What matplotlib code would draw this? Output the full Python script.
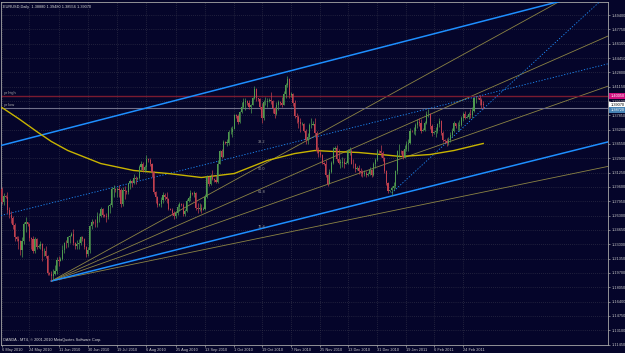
import matplotlib
matplotlib.use("Agg")
import matplotlib.pyplot as plt
import numpy as np
import pandas as pd

plt.rcParams['font.family'] = ['Liberation Sans', 'DejaVu Sans']

header_text = "EURUSD,Daily  1.38880 1.39480 1.38556 1.39070"
footer_text = "OANDA - MT4, \u00a9 2001-2010 MetaQuotes Software Corp."

first_open = 1.2940
# daily closes, weeks run Sun..Fri (OANDA has sunday bars)
closes = [
    1.2790, 1.2860,
    1.2850, 1.2700, 1.2640, 1.2600, 1.2520, 1.2380,
    1.2360, 1.2340, 1.2230, 1.2340, 1.2530, 1.2560,
    1.2530, 1.2370, 1.2360, 1.2220, 1.2360, 1.2270,
    1.2280, 1.2300, 1.2220, 1.2220, 1.2160, 1.1970,
    1.1960, 1.1930, 1.1960, 1.1990, 1.2120, 1.2110,
    1.2130, 1.2230, 1.2320, 1.2310, 1.2380, 1.2390,
    1.2420, 1.2310, 1.2280, 1.2300, 1.2320, 1.2380,
    1.2360, 1.2270, 1.2190, 1.2230, 1.2510, 1.2560,
    1.2550, 1.2540, 1.2620, 1.2630, 1.2710, 1.2640,
    1.2630, 1.2610, 1.2740, 1.2750, 1.2940, 1.2940,
    1.2920, 1.2940, 1.2930, 1.2760, 1.2920, 1.2910,
    1.2900, 1.3000, 1.3030, 1.3000, 1.3060, 1.3050,
    1.3060, 1.3190, 1.3230, 1.3150, 1.3190, 1.3280,
    1.3270, 1.3220, 1.3130, 1.2900, 1.2840, 1.2750,
    1.2760, 1.2810, 1.2870, 1.2850, 1.2820, 1.2710,
    1.2700, 1.2660, 1.2630, 1.2660, 1.2730, 1.2760,
    1.2750, 1.2650, 1.2680, 1.2800, 1.2830, 1.2890,
    1.2880, 1.2890, 1.2720, 1.2710, 1.2720, 1.2690,
    1.2710, 1.2850, 1.3080, 1.2990, 1.3070, 1.3050,
    1.3040, 1.3020, 1.3230, 1.3370, 1.3310, 1.3480,
    1.3470, 1.3470, 1.3590, 1.3590, 1.3630, 1.3790,
    1.3780, 1.3710, 1.3820, 1.3880, 1.3940, 1.3950,
    1.3930, 1.3880, 1.3910, 1.3990, 1.4090, 1.3980,
    1.3970, 1.3880, 1.3750, 1.3940, 1.3940, 1.3950,
    1.3960, 1.3950, 1.3870, 1.3800, 1.3910, 1.3940,
    1.3930, 1.3910, 1.4030, 1.4140, 1.4200, 1.4020,
    1.4030, 1.3930, 1.3780, 1.3770, 1.3710, 1.3680,
    1.3690, 1.3610, 1.3500, 1.3530, 1.3670, 1.3670,
    1.3690, 1.3580, 1.3370, 1.3350, 1.3330, 1.3240,
    1.3230, 1.3100, 1.2990, 1.3130, 1.3240, 1.3400,
    1.3410, 1.3280, 1.3240, 1.3240, 1.3250, 1.3230,
    1.3240, 1.3380, 1.3380, 1.3230, 1.3220, 1.3170,
    1.3180, 1.3140, 1.3130, 1.3110, 1.3120, 1.3100,
    1.3110, 1.3150, 1.3100, 1.3230, 1.3270, 1.3380,
    1.3370, 1.3350, 1.3290, 1.3140, 1.3000, 1.2910,
    1.2920, 1.2950, 1.2970, 1.3140, 1.3370, 1.3380,
    1.3370, 1.3310, 1.3400, 1.3460, 1.3470, 1.3610,
    1.3600, 1.3610, 1.3670, 1.3710, 1.3700, 1.3610,
    1.3620, 1.3700, 1.3800, 1.3800, 1.3660, 1.3580,
    1.3590, 1.3600, 1.3680, 1.3720, 1.3580, 1.3500,
    1.3490, 1.3470, 1.3500, 1.3560, 1.3600, 1.3700,
    1.3660, 1.3660, 1.3670, 1.3750, 1.3800, 1.3760,
    1.3770, 1.3800, 1.3790, 1.3840, 1.3980, 1.3990,
    1.3980, 1.3960, 1.3910, 1.3907,
]
highs = [
    1.2960, 1.2890,
    1.2870, 1.2900, 1.2730, 1.2680, 1.2620, 1.2540,
    1.2390, 1.2400, 1.2350, 1.2380, 1.2560, 1.2610,
    1.2560, 1.2540, 1.2380, 1.2400, 1.2380, 1.2370,
    1.2300, 1.2340, 1.2310, 1.2260, 1.2280, 1.2180,
    1.1980, 1.1990, 1.2010, 1.2060, 1.2150, 1.2160,
    1.2150, 1.2290, 1.2330, 1.2350, 1.2400, 1.2410,
    1.2440, 1.2470, 1.2330, 1.2350, 1.2360, 1.2390,
    1.2390, 1.2370, 1.2280, 1.2270, 1.2520, 1.2590,
    1.2570, 1.2590, 1.2670, 1.2660, 1.2730, 1.2720,
    1.2650, 1.2660, 1.2750, 1.2780, 1.2960, 1.2980,
    1.2950, 1.2960, 1.2980, 1.2950, 1.2960, 1.2970,
    1.2920, 1.3010, 1.3050, 1.3040, 1.3110, 1.3090,
    1.3080, 1.3210, 1.3260, 1.3250, 1.3210, 1.3333,
    1.3290, 1.3290, 1.3240, 1.3140, 1.2910, 1.2860,
    1.2780, 1.2850, 1.2900, 1.2890, 1.2900, 1.2830,
    1.2720, 1.2720, 1.2680, 1.2680, 1.2760, 1.2790,
    1.2770, 1.2780, 1.2710, 1.2820, 1.2860, 1.2920,
    1.2900, 1.2910, 1.2900, 1.2770, 1.2770, 1.2760,
    1.2730, 1.2880, 1.3100, 1.3090, 1.3110, 1.3160,
    1.3060, 1.3100, 1.3270, 1.3390, 1.3400, 1.3500,
    1.3490, 1.3510, 1.3620, 1.3650, 1.3660, 1.3800,
    1.3800, 1.3800, 1.3840, 1.3940, 1.3990, 1.3980,
    1.3960, 1.3960, 1.3920, 1.4000, 1.4120, 1.4100,
    1.3990, 1.3980, 1.3930, 1.3960, 1.4000, 1.3980,
    1.3980, 1.4050, 1.3960, 1.3880, 1.3940, 1.3960,
    1.3950, 1.4000, 1.4060, 1.4160, 1.4244, 1.4210,
    1.4050, 1.4040, 1.3960, 1.3810, 1.3790, 1.3760,
    1.3710, 1.3700, 1.3630, 1.3580, 1.3700, 1.3750,
    1.3720, 1.3760, 1.3600, 1.3420, 1.3390, 1.3340,
    1.3250, 1.3270, 1.3110, 1.3170, 1.3260, 1.3420,
    1.3430, 1.3440, 1.3400, 1.3280, 1.3300, 1.3290,
    1.3260, 1.3400, 1.3420, 1.3400, 1.3280, 1.3240,
    1.3200, 1.3210, 1.3180, 1.3150, 1.3150, 1.3140,
    1.3130, 1.3190, 1.3170, 1.3250, 1.3290, 1.3400,
    1.3390, 1.3440, 1.3370, 1.3300, 1.3150, 1.3020,
    1.2930, 1.2970, 1.3020, 1.3160, 1.3390, 1.3460,
    1.3390, 1.3390, 1.3440, 1.3490, 1.3510, 1.3640,
    1.3620, 1.3650, 1.3700, 1.3740, 1.3760, 1.3740,
    1.3640, 1.3720, 1.3830, 1.3860, 1.3810, 1.3680,
    1.3610, 1.3650, 1.3700, 1.3750, 1.3730, 1.3610,
    1.3510, 1.3520, 1.3530, 1.3590, 1.3640, 1.3720,
    1.3690, 1.3710, 1.3730, 1.3780, 1.3820, 1.3830,
    1.3790, 1.3820, 1.3860, 1.3880, 1.3990, 1.4010,
    1.4000, 1.4014, 1.3980, 1.3948,
]
lows = [
    1.2760, 1.2750,
    1.2830, 1.2660, 1.2600, 1.2540, 1.2480, 1.2340,
    1.2340, 1.2240, 1.2180, 1.2150, 1.2300, 1.2440,
    1.2510, 1.2340, 1.2240, 1.2200, 1.2200, 1.2250,
    1.2260, 1.2250, 1.2110, 1.2170, 1.2140, 1.1950,
    1.1940, 1.1876, 1.1890, 1.1950, 1.1960, 1.2050,
    1.2110, 1.2120, 1.2200, 1.2260, 1.2270, 1.2320,
    1.2390, 1.2290, 1.2240, 1.2240, 1.2250, 1.2290,
    1.2340, 1.2250, 1.2150, 1.2160, 1.2200, 1.2470,
    1.2530, 1.2500, 1.2500, 1.2560, 1.2610, 1.2610,
    1.2610, 1.2560, 1.2590, 1.2660, 1.2730, 1.2840,
    1.2900, 1.2850, 1.2840, 1.2730, 1.2740, 1.2820,
    1.2880, 1.2880, 1.2940, 1.2960, 1.2990, 1.2990,
    1.3040, 1.3050, 1.3160, 1.3130, 1.3130, 1.3160,
    1.3250, 1.3200, 1.3080, 1.2880, 1.2780, 1.2730,
    1.2740, 1.2730, 1.2780, 1.2810, 1.2780, 1.2690,
    1.2690, 1.2640, 1.2590, 1.2600, 1.2640, 1.2680,
    1.2740, 1.2630, 1.2630, 1.2670, 1.2790, 1.2800,
    1.2870, 1.2840, 1.2690, 1.2660, 1.2680, 1.2660,
    1.2690, 1.2700, 1.2830, 1.2970, 1.2980, 1.3040,
    1.3020, 1.3000, 1.3000, 1.3220, 1.3290, 1.3300,
    1.3450, 1.3430, 1.3440, 1.3570, 1.3540, 1.3630,
    1.3760, 1.3690, 1.3700, 1.3810, 1.3870, 1.3850,
    1.3910, 1.3860, 1.3810, 1.3900, 1.3970, 1.3950,
    1.3950, 1.3860, 1.3700, 1.3730, 1.3900, 1.3880,
    1.3940, 1.3920, 1.3810, 1.3760, 1.3790, 1.3850,
    1.3910, 1.3880, 1.3900, 1.3990, 1.4110, 1.3990,
    1.4000, 1.3890, 1.3760, 1.3700, 1.3640, 1.3590,
    1.3670, 1.3590, 1.3450, 1.3450, 1.3520, 1.3640,
    1.3670, 1.3560, 1.3350, 1.3310, 1.3300, 1.3230,
    1.3210, 1.3080, 1.2969, 1.2990, 1.3120, 1.3220,
    1.3390, 1.3260, 1.3220, 1.3180, 1.3190, 1.3180,
    1.3220, 1.3230, 1.3330, 1.3220, 1.3180, 1.3130,
    1.3160, 1.3110, 1.3090, 1.3070, 1.3090, 1.3080,
    1.3090, 1.3100, 1.3080, 1.3090, 1.3180, 1.3260,
    1.3350, 1.3300, 1.3260, 1.3120, 1.2980, 1.2890,
    1.2900, 1.2870, 1.2920, 1.2950, 1.3110, 1.3300,
    1.3340, 1.3280, 1.3290, 1.3380, 1.3370, 1.3460,
    1.3590, 1.3570, 1.3560, 1.3640, 1.3660, 1.3580,
    1.3600, 1.3610, 1.3680, 1.3770, 1.3630, 1.3550,
    1.3570, 1.3540, 1.3580, 1.3650, 1.3560, 1.3480,
    1.3470, 1.3430, 1.3440, 1.3480, 1.3540, 1.3590,
    1.3640, 1.3620, 1.3610, 1.3660, 1.3720, 1.3740,
    1.3750, 1.3740, 1.3760, 1.3760, 1.3820, 1.3930,
    1.3970, 1.3900, 1.3870, 1.3856,
]

# 200 day moving average
ma_bars = [0, 9, 19, 27, 36, 54, 72, 91, 109, 127, 145, 160, 171, 181, 195, 207, 218, 234, 247, 263]
ma_vals = [1.3875, 1.3749, 1.3599, 1.3484, 1.3380, 1.3230, 1.3150, 1.3115, 1.3069, 1.3115,
           1.3265, 1.3345, 1.3380, 1.3369, 1.3357, 1.3334, 1.3311, 1.3334, 1.3380, 1.3461]

# drawn objects (bar index, price)
chan_lo = ([27, 331], [1.1876, 1.3478])
chan_hi = ([-0.5, 331], [1.3438, 1.5241])
chan_mid = ([-0.5, 331], [1.2631, 1.4378])
steep_dot = ([213, 331], [1.2890, 1.5179])
fan_anchor = (27, 1.1876)
fan_ends = [1.5402, 1.4697, 1.4120, 1.3196]
fan_labels = ["38.2", "50.0", "61.8", "76.4"]
fan_label_prices = [1.3450, 1.3140, 1.2875, 1.2480]
yr_high = 1.4005
yr_low = 1.3872
bid = 1.3907

price_ticks = [1.11450, 1.13100, 1.14750, 1.16400, 1.18050, 1.19700, 1.21350, 1.23000,
               1.24650, 1.26300, 1.27950, 1.29600, 1.31250, 1.32900, 1.34550, 1.36200,
               1.37850, 1.39500, 1.41150, 1.42800, 1.44450, 1.46100, 1.47750, 1.49400]
date_ticks = ['2010-05-06', '2010-05-24', '2010-06-11', '2010-06-30', '2010-07-19', '2010-08-06',
              '2010-08-25', '2010-09-13', '2010-10-01', '2010-10-19', '2010-11-07', '2010-11-25',
              '2010-12-13', '2010-12-31', '2011-01-19', '2011-02-06', '2011-02-24']
date_labels = ['6 May 2010', '24 May 2010', '11 Jun 2010', '30 Jun 2010', '19 Jul 2010', '6 Aug 2010',
               '25 Aug 2010', '13 Sep 2010', '1 Oct 2010', '19 Oct 2010', '7 Nov 2010', '25 Nov 2010',
               '13 Dec 2010', '31 Dec 2010', '19 Jan 2011', '6 Feb 2011', '24 Feb 2011']

days = pd.date_range('2010-05-06', '2011-03-09')
days = days[days.dayofweek != 5]
assert len(closes) == len(highs) == len(lows) == len(days), (len(closes), len(highs), len(lows), len(days))

c = np.array(closes)
o = np.concatenate([[first_open], c[:-1]])
h = np.maximum(np.array(highs), np.maximum(o, c))
l = np.minimum(np.array(lows), np.minimum(o, c))
x = np.arange(len(c))

BG = '#05052a'
FG = '#c8c8c8'
UP = '#4f9a4f'
DN = '#c0404f'
OLIVE = '#8c8444'

fig = plt.figure(figsize=(6.25, 3.53), dpi=100, facecolor=BG)
ax = fig.add_axes([1 / 625, 8.5 / 353, 607 / 625, 342.5 / 353])
ax.set_facecolor(BG)

ax.set_xlim(-0.5, 331.2)
ax.set_ylim(1.1145, 1.5091)

# grid
for t in price_ticks:
    ax.axhline(t, color='#3c3c50', lw=0.5, ls=(0, (1, 2)), zorder=0)
xt = [int(np.searchsorted(days, pd.Timestamp(d))) for d in date_ticks]
for t in xt:
    ax.axvline(t, color='#3c3c50', lw=0.5, ls=(0, (1, 2)), zorder=0)

# drawn lines
ax.plot(*chan_hi, color='#1e8fff', lw=1.1, zorder=3)
ax.plot(*chan_lo, color='#1e8fff', lw=1.1, zorder=3)
ax.plot(*chan_mid, color='#1e8fff', lw=0.6, ls=(0, (1.5, 2)), zorder=3)
ax.plot(*steep_dot, color='#1e8fff', lw=0.6, ls=(0, (1.5, 2)), zorder=3)
for e in fan_ends:
    ax.plot([fan_anchor[0], 331], [fan_anchor[1], e], color=OLIVE, lw=0.6, zorder=2)
for lab, p in zip(fan_labels, fan_label_prices):
    ax.text(140, p, lab, color='#9a9a9a', fontsize=2.8, ha='left', va='bottom', zorder=4)

ax.axhline(yr_high, color='#7a1a30', lw=1.0, zorder=2)
ax.axhline(yr_low, color='#70708a', lw=0.8, zorder=2)
ax.text(1, yr_high + 0.001, 'yr high', color='#b0b0b0', fontsize=2.8, va='bottom', zorder=4)
ax.text(1, yr_low + 0.001, 'yr low', color='#b0b0b0', fontsize=2.8, va='bottom', zorder=4)

# moving average
ax.plot(ma_bars, ma_vals, color='#c8b400', lw=1.0, zorder=3)

# candles
up = c >= o
cols = np.where(up, UP, DN)
ax.vlines(x, l, h, colors=cols, lw=0.5, zorder=4)
body = np.maximum(np.abs(c - o), 0.0004)
ax.bar(x, body, bottom=np.minimum(o, c), width=0.6, color=cols, lw=0, zorder=5)

# axes styling
for s in ax.spines.values():
    s.set_color('#a8a8a8')
    s.set_linewidth(0.6)
ax.yaxis.tick_right()
ax.set_yticks(price_ticks)
ax.set_yticklabels([f'{t:.5f}' for t in price_ticks])
ax.set_xticks(xt)
ax.set_xticklabels(date_labels)
ax.tick_params(axis='both', colors='#a8a8a8', labelcolor=FG, labelsize=2.8, length=1.5, width=0.5, pad=1)
for lab in ax.get_xticklabels():
    lab.set_horizontalalignment('left')

# price boxes on the axis
ytr = ax.get_yaxis_transform()
ax.text(1.004, yr_high, f'{yr_high:.5f}', transform=ytr, fontsize=2.8, color='white', va='center', ha='left',
        bbox=dict(boxstyle='square,pad=0.25', fc='#d0107f', ec='none'), clip_on=False, zorder=6)
ax.text(1.004, bid, f'{bid:.5f}', transform=ytr, fontsize=2.8, color='black', va='center', ha='left',
        bbox=dict(boxstyle='square,pad=0.25', fc='white', ec='none'), clip_on=False, zorder=6)
ax.text(1.004, yr_low - 0.002, f'{yr_low:.5f}', transform=ytr, fontsize=2.8, color='white', va='center', ha='left',
        bbox=dict(boxstyle='square,pad=0.25', fc='#4682b4', ec='none'), clip_on=False, zorder=6)

ax.text(0.004, 0.99, header_text, transform=ax.transAxes, color='#d8d8d8', fontsize=2.8, va='top', zorder=6)
ax.text(0.004, 0.008, footer_text, transform=ax.transAxes, color='#d8d8d8', fontsize=2.8, va='bottom', zorder=6)

fig.savefig('out.png', dpi=100, facecolor=BG)
